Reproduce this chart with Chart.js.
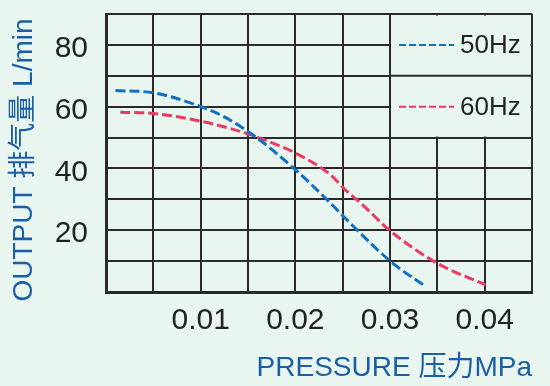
<!DOCTYPE html>
<html>
<head>
<meta charset="utf-8">
<script src="https://cdn.jsdelivr.net/npm/chart.js@4/dist/chart.umd.min.js"></script>
<style>
  html, body { margin: 0; padding: 0; background: #e9f5ef; }
  #wrap { width: 550px; height: 386px; }
</style>
</head>
<body>
<div id="wrap"><canvas id="chart" width="550" height="386"></canvas></div>
<script>
// curve 50Hz (pressure MPa -> output L/min)
const pressure50 = [0.001, 0.005, 0.010, 0.0125, 0.0159, 0.020, 0.0237, 0.0253, 0.0301, 0.0338];
const output50   = [65.2, 64.5, 60.0, 56.7, 50.0, 39.6, 28.8, 23.8, 9.8, 1.7];

// curve 60Hz
const pressure60 = [0.0015, 0.005, 0.010, 0.0152, 0.018, 0.020, 0.0237, 0.0253, 0.0269, 0.0301, 0.035, 0.0401];
const output60   = [58.2, 57.8, 55.3, 51.0, 47.7, 45.0, 38.0, 33.0, 28.8, 19.6, 9.3, 2.3];

const seriesNames = ["50Hz", "60Hz"];
const xTickLabels = ["0.01", "0.02", "0.03", "0.04"];
const yTickLabels = ["20", "40", "60", "80"];
const yTitle = 'OUTPUT 排气量 L/min';
const xTitle = 'PRESSURE 压力MPa';

const blue = '#106fc2';
const red = '#ea3a62';
const titleBlue = '#1b5ea8';
const gridColor = '#2a2a2a';
const bg = '#e9f5ef';
const font = '"Liberation Sans", Arial, "Noto Sans CJK SC", sans-serif';

function toPoints(xs, ys) {
    return xs.map((x, i) => ({ x: x, y: ys[i] }));
}

// one grid line every half cell step
function evenTicks(scale, step, count) {
    const t = [];
    for (let k = 0; k <= count; k++) t.push({ value: +(k * step).toFixed(4) });
    scale.ticks = t;
}

// legend box in the top right cells, drawn over the grid
const legendBox = {
    id: 'legendBox',
    beforeDatasetsDraw(chart) {
        const { ctx, scales: { x, y } } = chart;
        const l = x.getPixelForValue(0.03), r = x.getPixelForValue(0.045);
        const t = y.getPixelForValue(90), b = y.getPixelForValue(50);
        const mid = y.getPixelForValue(70);
        ctx.save();
        ctx.fillStyle = bg;
        ctx.fillRect(l + 1, t + 1.5, r - l - 2.5, b - t - 2.5);
        ctx.strokeStyle = gridColor;
        ctx.lineWidth = 2;
        ctx.beginPath();
        ctx.moveTo(l, mid);
        ctx.lineTo(r, mid);
        ctx.stroke();

        const colors = [blue, red];
        const rows = [y.getPixelForValue(80), y.getPixelForValue(60)];
        ctx.font = '26px ' + font;
        ctx.textBaseline = 'middle';
        rows.forEach((ry, i) => {
            ctx.strokeStyle = colors[i];
            ctx.lineWidth = 2;
            ctx.setLineDash([7, 3]);
            ctx.beginPath();
            ctx.moveTo(l + 9, ry);
            ctx.lineTo(l + 64, ry);
            ctx.stroke();
            ctx.setLineDash([]);
            ctx.fillStyle = '#222';
            ctx.fillText(seriesNames[i], l + 70, ry + 1);
        });
        ctx.restore();
    }
};

// vertical axis title, placed a little below the plot centre as in the picture
const yTitlePlugin = {
    id: 'yTitlePlugin',
    afterDraw(chart) {
        const { ctx, chartArea } = chart;
        ctx.save();
        ctx.translate(24, (chartArea.top + chartArea.bottom) / 2 + 7);
        ctx.rotate(-Math.PI / 2);
        ctx.font = '28px ' + font;
        ctx.fillStyle = titleBlue;
        ctx.textAlign = 'center';
        ctx.textBaseline = 'middle';
        ctx.fillText(yTitle, 0, 0);
        ctx.restore();
    }
};

const ctx = document.getElementById('chart').getContext('2d');

new Chart(ctx, {
    type: 'line',
    data: {
        datasets: [{
            label: seriesNames[0],
            data: toPoints(pressure50, output50),
            borderColor: blue,
            borderWidth: 3,
            borderDash: [10, 4],
            pointRadius: 0,
            cubicInterpolationMode: 'monotone',
            fill: false
        }, {
            label: seriesNames[1],
            data: toPoints(pressure60, output60),
            borderColor: red,
            borderWidth: 3,
            borderDash: [10, 4],
            pointRadius: 0,
            cubicInterpolationMode: 'monotone',
            fill: false
        }]
    },
    options: {
        responsive: false,
        animation: false,
        layout: { padding: { top: 14, right: 18, left: 0, bottom: 0 } },
        plugins: { legend: { display: false }, tooltip: { enabled: false } },
        scales: {
            x: {
                type: 'linear',
                min: 0,
                max: 0.045,
                afterBuildTicks(scale) { evenTicks(scale, 0.005, 9); },
                afterFit(scale) {
                    scale.height = 94;
                    scale.paddingLeft = 0;
                    scale.paddingRight = 0;
                },
                ticks: {
                    padding: 11,
                    color: '#222',
                    font: { family: font, size: 30 },
                    maxRotation: 0,
                    autoSkip: false,
                    callback(v) {
                        const k = Math.round(v * 1000);
                        return (k % 10 === 0 && k > 0) ? xTickLabels[k / 10 - 1] : '';
                    }
                },
                grid: { color: gridColor, lineWidth: 2, drawTicks: false },
                border: { color: gridColor, width: 3 },
                title: {
                    display: true,
                    text: xTitle,
                    align: 'end',
                    color: titleBlue,
                    font: { family: font, size: 28 },
                    padding: { top: 0, bottom: 1 }
                }
            },
            y: {
                min: 0,
                max: 90,
                afterBuildTicks(scale) { evenTicks(scale, 10, 9); },
                afterFit(scale) {
                    scale.width = 106;
                    scale.paddingTop = 0;
                    scale.paddingBottom = 0;
                },
                ticks: {
                    padding: 18,
                    labelOffset: 4,
                    color: '#222',
                    autoSkip: false,
                    font: { family: font, size: 30 },
                    callback(v) {
                        return (v % 20 === 0 && v > 0 && v < 90) ? yTickLabels[v / 20 - 1] : '';
                    }
                },
                grid: { color: gridColor, lineWidth: 2, drawTicks: false },
                border: { color: gridColor, width: 3 }
            }
        }
    },
    plugins: [legendBox, yTitlePlugin]
});
</script>
</body>
</html>
